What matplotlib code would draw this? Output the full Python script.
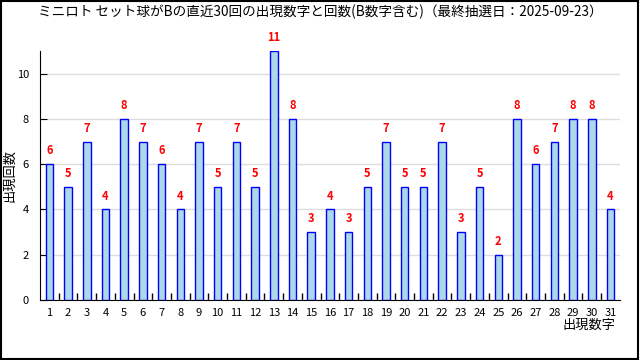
import numpy as np
import matplotlib.pyplot as plt
from matplotlib.patches import Rectangle

plt.rcParams['font.family'] = ['Noto Sans CJK JP', 'DejaVu Sans']

# data
numbers = list(range(1, 32))
counts = [6, 5, 7, 4, 8, 7, 6, 4, 7, 5, 7, 5, 11, 8, 3, 4, 3, 5, 7, 5,
          5, 7, 3, 5, 2, 8, 6, 7, 8, 8, 4]
title = 'ミニロト セット球がBの直近30回の出現数字と回数(B数字含む)（最終抽選日：2025-09-23）'

fig = plt.figure(figsize=(6.4, 3.6), dpi=100)
ax = fig.add_axes([0.0625, 0.1667, 0.906, 0.6916])

ax.bar(numbers, counts, width=0.4, color='#add8e6', edgecolor='#0000ff', linewidth=1, zorder=3)
for x, c in zip(numbers, counts):
    ax.text(x, c + 0.3, str(c), color='red', ha='center', va='bottom',
            fontsize=8, fontweight='bold', clip_on=False)

ax.set_xlim(0.5, 31.5)
ax.set_ylim(0, 11)
ax.set_xticks(numbers)
ax.set_xticks(np.arange(1.5, 31.5, 1), minor=True)
ax.tick_params(axis='x', which='major', length=0, pad=6, labelsize=8)
ax.tick_params(axis='x', which='minor', length=5, direction='in', width=1)
ax.set_yticks([0, 2, 4, 6, 8, 10])
ax.tick_params(axis='y', length=5, direction='in', pad=8, labelsize=8)
ax.grid(axis='y', color='#dddddd', linewidth=1, zorder=0)

for s in ['top', 'right']:
    ax.spines[s].set_visible(False)

fig.text(10 / 640, 1 - 175 / 360, '出現回数', rotation=90, ha='center', va='center', fontsize=9.5)
fig.text(616 / 640, 1 - 325 / 360, '出現数字', ha='right', va='center', fontsize=9.5)
fig.text(0.5, 1 - 12 / 360, title, ha='center', va='center', fontsize=9.8)
fig.patches.append(Rectangle((0.001, 0.002), 0.996, 0.995, transform=fig.transFigure,
                             fill=False, edgecolor='black', linewidth=1.5))

fig.savefig('out.png', dpi=100)
